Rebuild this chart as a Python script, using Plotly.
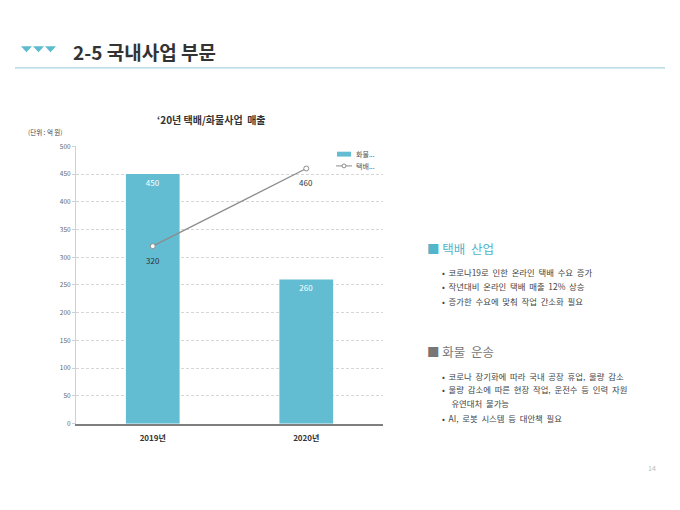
import plotly.graph_objects as go

# chart data
years = ['2019년', '2020년']
cargo_sales = [450, 260]      # 화물사업 (bars)
parcel_sales = [320, 460]     # 택배사업 (line)
y_ticks = list(range(0, 501, 50))
legend_names = ['화물...', '택배...']

parcel_points = ['코로나19로 인한 온라인 택배 수요 증가',
                 '작년대비 온라인 택배 매출 12% 상승',
                 '증가한 수요에 맞춰 작업 간소화 필요']
cargo_points = ['코로나 장기화에 따라 국내 공장 휴업, 물량 감소',
                '물량 감소에 따른 현장 작업, 운전수 등 인력 자원',
                '유연대처 불가능',
                'AI, 로봇 시스템 등 대안책 필요']

FONT = 'Noto Sans CJK KR'
TEAL = '#63bdd2'
LINE_GREY = '#8c8c8c'
# the page body has an 8px margin, so the figure is a bit smaller
OFF = 8
W, H = 680 - OFF, 510 - OFF


def px_x(x):
    return (x - OFF) / W


def px_y(y):
    return 1 - (y - OFF) / H


def wide(text):
    # the slide uses wide word gaps
    return text.replace(' ', '&nbsp;&nbsp;')


def note(x, y, text, size, color, anchor='left', bold=False):
    if bold:
        text = '<b>' + text + '</b>'
    fig.add_annotation(x=px_x(x), y=px_y(y), xref='paper', yref='paper',
                       text=text, showarrow=False,
                       xanchor=anchor, yanchor='middle',
                       font=dict(size=size, color=color, family=FONT))


fig = go.Figure()

fig.add_trace(go.Bar(
    x=years, y=cargo_sales, name=legend_names[0],
    marker=dict(color=TEAL, line=dict(width=0)),
    width=0.35,
    text=cargo_sales, textposition='inside', insidetextanchor='end',
    textfont=dict(color='white', size=8, family=FONT),
))
fig.add_trace(go.Scatter(
    x=years, y=parcel_sales, name=legend_names[1], mode='lines+markers',
    line=dict(color=LINE_GREY, width=1.3),
    marker=dict(symbol='circle', size=5, color='white',
                line=dict(color=LINE_GREY, width=1)),
))
# line value labels, a little below each point
for xv, yv in zip(years, parcel_sales):
    fig.add_annotation(x=xv, y=yv, xref='x', yref='y', text=str(yv),
                       showarrow=False, yshift=-14,
                       font=dict(size=8, color='#333333', family=FONT))

fig.update_layout(
    width=W, height=H,
    margin=dict(l=0, r=0, t=0, b=0),
    paper_bgcolor='white', plot_bgcolor='white',
    font=dict(family=FONT, color='#555555'),
    showlegend=False,
    xaxis=dict(domain=[px_x(76), px_x(383)], showgrid=False,
               showline=True, linecolor='#7f7f7f', linewidth=1.5,
               ticks='', ticklabelstandoff=6,
               tickfont=dict(size=8, color='#333333', family=FONT,
                             weight='bold')),
    yaxis=dict(domain=[px_y(426), px_y(143)], range=[0, 500],
               tickvals=y_ticks, showgrid=True, gridcolor='#d6d6d6',
               griddash='3px,2px', gridwidth=0.8,
               showline=True, linecolor='#d0d0d0', linewidth=1,
               zeroline=False,
               ticks='outside', ticklen=3, tickcolor='#d0d0d0',
               tickfont=dict(size=6.5, color='#666666', family=FONT)),
)

# small legend in the top right of the plot
fig.add_shape(type='rect', xref='paper', yref='paper',
              x0=px_x(337), x1=px_x(351), y0=px_y(148.5), y1=px_y(153.5),
              fillcolor=TEAL, line=dict(width=0))
fig.add_shape(type='line', xref='paper', yref='paper',
              x0=px_x(336), x1=px_x(352), y0=px_y(163), y1=px_y(163),
              line=dict(color=LINE_GREY, width=1))
fig.add_shape(type='circle', xref='paper', yref='paper',
              x0=px_x(342), x1=px_x(346), y0=px_y(161), y1=px_y(165),
              fillcolor='white', line=dict(color=LINE_GREY, width=1))
note(354, 151, legend_names[0], 7, '#555555')
note(354, 163, legend_names[1], 7, '#555555')

# header
note(71, 46, '2-5 국내사업 부문', 19, '#333333', bold=True)
for i in range(3):
    x0 = 21 + i * 12
    fig.add_shape(type='path', xref='paper', yref='paper',
                  path='M {} {} L {} {} L {} {} Z'.format(
                      px_x(x0), px_y(41), px_x(x0 + 11), px_y(41),
                      px_x(x0 + 5.5), px_y(47)),
                  fillcolor='#5cbccd', line=dict(width=0))
fig.add_shape(type='line', xref='paper', yref='paper',
              x0=px_x(15), x1=px_x(665), y0=px_y(63), y1=px_y(63),
              line=dict(color='#a9d4dc', width=1.2))

# chart title and unit
note(212, 116, '‘20년 택배/화물사업&nbsp;&nbsp;매출', 10, '#333333',
     anchor='center', bold=True)
note(26, 128, '(단위 : 억 원)', 6.5, '#444444')

# right text blocks
note(425, 247, '■&nbsp;' + wide('택배 산업'), 12.5, '#52b5c9')
for i, t in enumerate(parcel_points):
    note(440, 271 + i * 15, '•&nbsp;&nbsp;' + wide(t), 8.4, '#444444')

note(425, 352, '■&nbsp;' + wide('화물 운송'), 12.5, '#777777')
cargo_y = [377, 391, 405, 420]
for t, yy in zip(cargo_points, cargo_y):
    prefix = '&nbsp;' * 5 if t == '유연대처 불가능' else '•&nbsp;&nbsp;'
    note(440, yy, prefix + wide(t), 8.4, '#444444')

# page number
note(652, 471, '14', 7, '#bbbbbb', anchor='center')

fig.write_html('out.html')
